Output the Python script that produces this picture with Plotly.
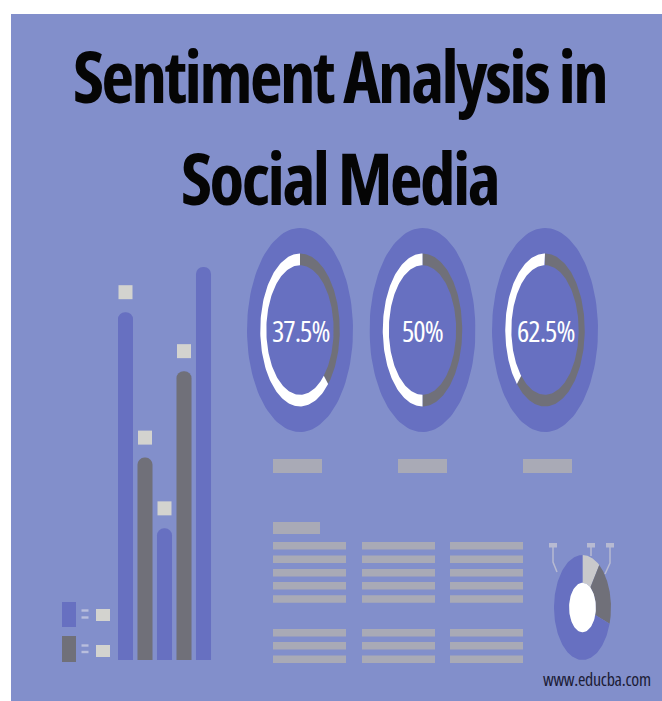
import numpy as np
import plotly.graph_objects as go

W, H = 662, 701

# ---------------- data ----------------
bar_categories = [0, 1, 2, 3, 4]
bar_values = [88.5, 51.5, 33.5, 73.5, 100]
bar_series = ["blue", "gray", "blue", "gray", "blue"]
gauge_values = [37.5, 50, 62.5]
gauge_labels = ["37.5%", "50%", "62.5%"]
mini_donut_values = [10, 20, 70]
title_lines = ["Sentiment Analysis in", "Social Media"]
site_label = "www.educba.com"

# ---------------- styles ----------------
BG = "#828FCB"
BLUE = "#6770C1"
GRAY = "#707079"
LIGHT = "#D3D3CF"
LINEC = "#A9AAB6"
FONT = "Open Sans, Roboto, sans-serif"


def cond(text, spacing=0):
    return f'<span style="font-stretch:75%;letter-spacing:{spacing}px">{text}</span>'


def px(x):
    return x / W


def py(y):
    return 1 - y / H


def sector(f0, f1, r0, r1, n=120):
    t = np.linspace(2 * np.pi * f0, 2 * np.pi * f1, n)
    xo, yo = r1 * np.sin(t), r1 * np.cos(t)
    xi, yi = r0 * np.sin(t[::-1]), r0 * np.cos(t[::-1])
    xs = np.concatenate([xo, xi, xo[:1]])
    ys = np.concatenate([yo, yi, yo[:1]])
    return xs, ys


fig = go.Figure()
layout_axes = {}

# ---------------- bar chart ----------------
bar_bottom, bar_top = 660, 267
units_per_px = 100 / (bar_bottom - bar_top)
fig.add_trace(go.Bar(
    x=bar_categories, y=bar_values, width=0.77,
    marker=dict(color=[BLUE if s == "blue" else GRAY for s in bar_series],
                cornerradius=7, line_width=0),
    xaxis="x", yaxis="y", hoverinfo="skip", showlegend=False))
fig.add_trace(go.Scatter(
    x=bar_categories, y=[v + 20 * units_per_px for v in bar_values],
    mode="markers", cliponaxis=False,
    marker=dict(symbol="square", size=14, color=LIGHT, line_width=0),
    xaxis="x", yaxis="y", hoverinfo="skip", showlegend=False))
hidden = dict(visible=False, showgrid=False, zeroline=False, fixedrange=True)
layout_axes["xaxis"] = dict(domain=[px(115.75), px(213.25)], range=[-0.5, 4.5], **hidden)
layout_axes["yaxis"] = dict(domain=[py(bar_bottom), py(bar_top)], range=[0, 100], **hidden)

# ---------------- gauges ----------------
gauge_cx = [300, 422.5, 545]
g_rx, g_cy, g_ry = 53, 330, 102
annotations = []
for i, (val, lab) in enumerate(zip(gauge_values, gauge_labels)):
    n = i + 2
    xa, ya = f"x{n}", f"y{n}"
    cx = gauge_cx[i]
    layout_axes[f"xaxis{n}"] = dict(domain=[px(cx - g_rx), px(cx + g_rx)], range=[-1, 1], **hidden)
    layout_axes[f"yaxis{n}"] = dict(domain=[py(g_cy + g_ry), py(g_cy - g_ry)], range=[-1, 1], **hidden)
    xs, ys = sector(0, 1, 0, 1)
    fig.add_trace(go.Scatter(x=xs, y=ys, fill="toself", fillcolor=BLUE, mode="lines",
                             line=dict(width=0, color=BLUE), xaxis=xa, yaxis=ya,
                             hoverinfo="skip", showlegend=False))
    xs, ys = sector(0, val / 100, 0.635, 0.75)
    fig.add_trace(go.Scatter(x=xs, y=ys, fill="toself", fillcolor=GRAY, mode="lines",
                             line=dict(width=0, color=GRAY), xaxis=xa, yaxis=ya,
                             hoverinfo="skip", showlegend=False))
    xs, ys = sector(val / 100, 1, 0.635, 0.75)
    fig.add_trace(go.Scatter(x=xs, y=ys, fill="toself", fillcolor="white", mode="lines",
                             line=dict(width=0, color="white"), xaxis=xa, yaxis=ya,
                             hoverinfo="skip", showlegend=False))
    annotations.append(dict(x=0, y=0, xref=xa, yref=ya, text=cond(lab, -1), showarrow=False,
                            xanchor="center", yanchor="middle",
                            font=dict(family=FONT, size=29, color="white", weight=500)))

# ---------------- mini donut ----------------
layout_axes["xaxis5"] = dict(domain=[px(554), px(611)], range=[-1, 1], **hidden)
layout_axes["yaxis5"] = dict(domain=[py(660), py(555)], range=[-1, 1], **hidden)
mini_colors = ["#C9C9CB", GRAY, BLUE]
total = sum(mini_donut_values)
cum = 0
for v, c in zip(mini_donut_values, mini_colors):
    xs, ys = sector(cum / total, (cum + v) / total, 0.47, 1.0)
    fig.add_trace(go.Scatter(x=xs, y=ys, fill="toself", fillcolor=c, mode="lines",
                             line=dict(width=0, color=c), xaxis="x5", yaxis="y5",
                             hoverinfo="skip", showlegend=False))
    cum += v
xs, ys = sector(0, 1, 0, 0.47)
fig.add_trace(go.Scatter(x=xs, y=ys, fill="toself", fillcolor="white", mode="lines",
                         line=dict(width=0, color="white"), xaxis="x5", yaxis="y5",
                         hoverinfo="skip", showlegend=False))

# ---------------- decorative shapes ----------------
shapes = [dict(type="rect", xref="paper", yref="paper", x0=px(11), x1=px(662),
               y0=py(701), y1=py(14), fillcolor=BG, line_width=0, layer="below")]


def rect(x0, y0, x1, y1, color):
    shapes.append(dict(type="rect", xref="paper", yref="paper", x0=px(x0), x1=px(x1),
                       y0=py(y1), y1=py(y0), fillcolor=color, line_width=0, layer="above"))


def seg(pts, color, w=1.5):
    path = "M " + " L ".join(f"{px(x)},{py(y)}" for x, y in pts)
    shapes.append(dict(type="path", xref="paper", yref="paper", path=path,
                       line=dict(color=color, width=w), layer="above"))


# under-gauge bars
for cx in [297.5, 422.5, 547.5]:
    rect(cx - 24.5, 459, cx + 24.5, 473, LINEC)
# text placeholder block
rect(273, 522, 320, 534, LINEC)
cols = [(273, 346), (362, 435), (450, 523)]
for yc in [545.7, 559.3, 572.7, 585.7, 599, 632.7, 645.7, 659.3]:
    for x0, x1 in cols:
        rect(x0, yc - 3.7, x1, yc + 3.7, LINEC)
# legend for bars
rect(62, 602, 76, 627, BLUE)
rect(62, 636, 76, 662, GRAY)
for yy in [610.5, 617.5, 645.5, 652]:
    rect(81.5, yy - 1.2, 88.5, yy + 1.2, "#B9BEDD")
rect(96, 609, 110, 621, LIGHT)
rect(96, 645, 110, 657, LIGHT)
# mini donut leaders
lead = "#B7BAD2"
rect(549, 543, 557, 547.5, lead)
rect(587, 543, 595, 547.5, lead)
rect(606, 543, 614, 547.5, lead)
seg([(553, 547), (553, 562), (557, 572)], lead)
seg([(591, 547), (591, 556)], lead)
seg([(610, 547), (610, 563), (605, 574)], lead)

# ---------------- text ----------------
for txt, yc in zip(title_lines, [76, 177]):
    annotations.append(dict(x=px(339.5), y=py(yc), xref="paper", yref="paper",
                            text=cond(txt, -2.5),
                            showarrow=False, xanchor="center", yanchor="middle",
                            font=dict(family=FONT, size=71, color="#050505", weight=700)))
annotations.append(dict(x=px(653), y=py(679), xref="paper", yref="paper", text=cond(site_label, -0.3),
                        showarrow=False, xanchor="right", yanchor="middle",
                        font=dict(family=FONT, size=18, color="#1C1C36")))

fig.update_layout(
    width=W, height=H, margin=dict(l=0, r=0, t=0, b=0, pad=0),
    paper_bgcolor="white", plot_bgcolor="rgba(0,0,0,0)",
    showlegend=False, shapes=shapes, annotations=annotations,
    barmode="overlay", **layout_axes)

fig.write_html("out.html", config=dict(displayModeBar=False))
